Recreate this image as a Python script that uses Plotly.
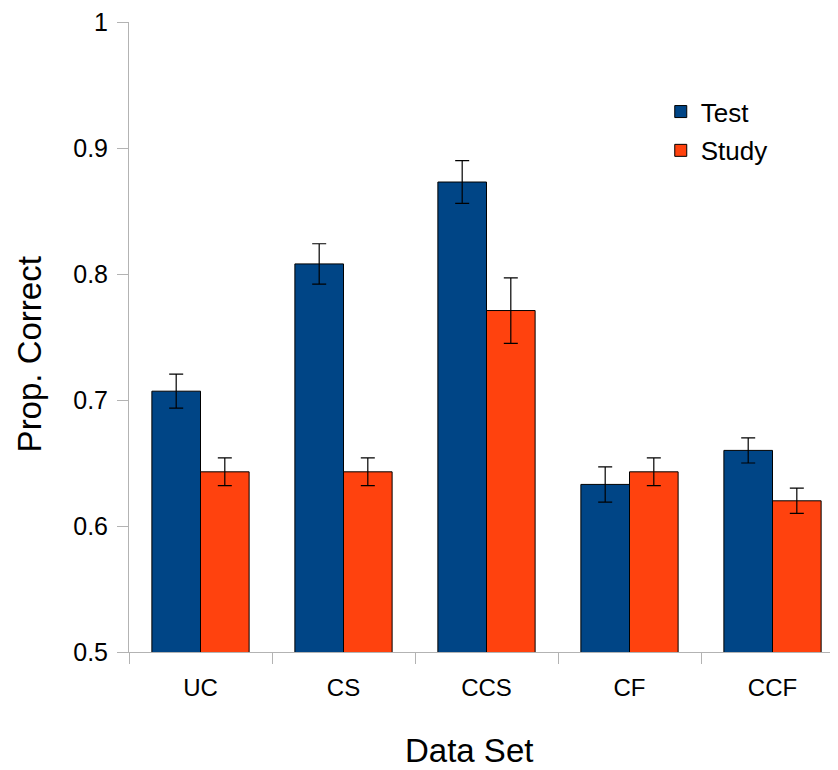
import plotly.graph_objects as go

categories = ["UC", "CS", "CCS", "CF", "CCF"]
test_vals = [0.707, 0.808, 0.873, 0.633, 0.660]
test_err = [0.0135, 0.016, 0.017, 0.014, 0.010]
study_vals = [0.643, 0.643, 0.771, 0.643, 0.620]
study_err = [0.011, 0.011, 0.026, 0.011, 0.010]
y_ticks = [0.5, 0.6, 0.7, 0.8, 0.9, 1.0]
y_tick_labels = ["0.5", "0.6", "0.7", "0.8", "0.9", "1"]

FONT = "Liberation Sans, Arial, sans-serif"

fig = go.Figure()
fig.add_trace(go.Bar(
    x=categories, y=test_vals, name="Test", legendgroup="a",
    marker=dict(color="#004586", line=dict(color="black", width=1)),
    error_y=dict(type="data", array=test_err, color="black", thickness=1.2, width=7),
))
fig.add_trace(go.Bar(
    x=categories, y=study_vals, name="Study", legendgroup="b",
    marker=dict(color="#ff420e", line=dict(color="black", width=1)),
    error_y=dict(type="data", array=study_err, color="black", thickness=1.2, width=7),
))

fig.update_layout(
    width=830, height=762,
    margin=dict(l=121, r=0, t=12, b=117.5),
    paper_bgcolor="white", plot_bgcolor="white",
    barmode="group", bargap=0.32, bargroupgap=0,
    font=dict(family=FONT, color="black"),
    showlegend=True,
    legend=dict(x=0.750, y=0.895, xanchor="left", yanchor="top",
                font=dict(size=26, family=FONT), tracegroupgap=2,
                traceorder="grouped", bgcolor="rgba(0,0,0,0)"),
    xaxis=dict(
        range=[-0.5, 4.458], showgrid=False, showline=True, linecolor="#b3b3b3",
        linewidth=1, ticks="outside", tickson="boundaries", ticklen=11,
        tickcolor="#b3b3b3", tickfont=dict(size=24, family=FONT),
        ticklabelstandoff=14, zeroline=False,
    ),
    yaxis=dict(
        range=[0.5, 1.0], showgrid=False, showline=True, linecolor="#b3b3b3",
        linewidth=1, ticks="outside", ticklen=11, tickcolor="#b3b3b3",
        tickvals=y_ticks, ticktext=y_tick_labels, ticklabelstandoff=4,
        ticklabeloverflow="allow",
        tickfont=dict(size=25, family=FONT), zeroline=False,
    ),
    annotations=[
        dict(text="Data Set", xref="paper", yref="paper", x=0.48, y=-0.157,
             xanchor="center", yanchor="middle", showarrow=False,
             font=dict(size=33, family=FONT)),
        dict(text="Prop. Correct", xref="paper", yref="paper", x=-0.14, y=0.472,
             xanchor="center", yanchor="middle", showarrow=False, textangle=-90,
             font=dict(size=33, family=FONT)),
    ],
)

fig.write_html("out.html")
